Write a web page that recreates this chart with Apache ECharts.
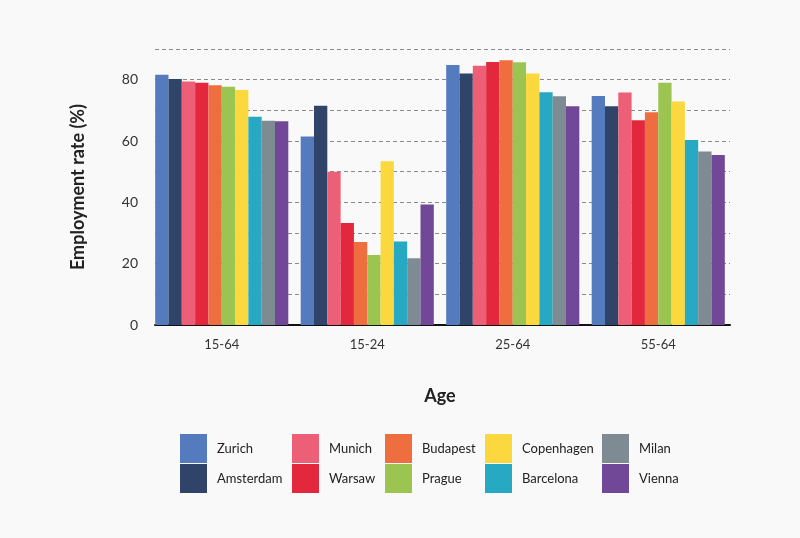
<!DOCTYPE html>
<html>
<head>
<meta charset="utf-8">
<script src="https://cdn.jsdelivr.net/npm/echarts@6/dist/echarts.min.js"></script>
<style>
html,body{margin:0;padding:0;background:#f9f9f9;}
#chart{width:800px;height:538px;}
</style>
</head>
<body>
<div id="chart"></div>
<script>
var categories = ['15-64', '15-24', '25-64', '55-64'];
var cities = ['Zurich', 'Amsterdam', 'Munich', 'Warsaw', 'Budapest', 'Prague', 'Copenhagen', 'Barcelona', 'Milan', 'Vienna'];
var colors = ['#547bbd', '#2f4468', '#ec5f77', '#e3283d', '#ee6e40', '#9bc451', '#fad83e', '#27a9c3', '#7f8b93', '#714897'];
var zurich     = [81.6, 61.5, 84.8, 74.7];
var amsterdam  = [80.2, 71.5, 82.0, 71.3];
var munich     = [79.4, 50.0, 84.5, 75.8];
var warsaw     = [79.0, 33.3, 85.8, 66.8];
var budapest   = [78.2, 27.1, 86.3, 69.4];
var prague     = [77.7, 22.8, 85.7, 79.0];
var copenhagen = [76.6, 53.4, 82.0, 72.9];
var barcelona  = [67.9, 27.2, 75.9, 60.3];
var milan      = [66.6, 21.8, 74.6, 56.6];
var vienna     = [66.4, 39.3, 71.3, 55.4];
var values = [zurich, amsterdam, munich, warsaw, budapest, prague, copenhagen, barcelona, milan, vienna];

var font = 'Lato, "Noto Sans", sans-serif';
var chart = echarts.init(document.getElementById('chart'));

var series = cities.map(function (c, i) {
  return {
    name: c, type: 'bar', data: values[i],
    xAxisIndex: 0, yAxisIndex: 0, z: 3,
    barGap: '0%', barCategoryGap: '8.5%',
    itemStyle: { color: colors[i] }
  };
});

var legendCols = [[0, 1], [2, 3], [4, 5], [6, 7], [8, 9]];
var legendLeft = [180, 292, 385, 485, 602];
var legends = legendCols.map(function (pair, k) {
  return {
    orient: 'vertical', left: legendLeft[k], top: 434, padding: 0,
    itemWidth: 27, itemHeight: 29, itemGap: 1,
    icon: 'rect', selectedMode: false,
    data: pair.map(function (i) { return cities[i]; }),
    textStyle: { fontFamily: font, fontSize: 13, color: '#222', padding: [0, 0, 0, 5] }
  };
});

chart.setOption({
  backgroundColor: '#f9f9f9',
  animation: false,
  grid: [
    { left: 149, right: 69, top: 49, bottom: 213 },
    { left: 155, right: 70, top: 49, bottom: 213 }
  ],
  legend: legends,
  xAxis: [{
    type: 'category', data: categories, gridIndex: 0,
    name: 'Age', nameLocation: 'middle', nameGap: 62,
    nameTextStyle: { fontFamily: font, fontSize: 18, fontWeight: 'bold', color: '#222' },
    axisLine: { show: false },
    axisTick: { show: false },
    axisLabel: { fontFamily: font, fontSize: 13, color: '#333', margin: 13 }
  }, {
    type: 'value', gridIndex: 1, min: 0, max: 1,
    axisLine: { show: true, lineStyle: { color: '#111', width: 2 } },
    axisTick: { show: false }, axisLabel: { show: false }, splitLine: { show: false }
  }],
  yAxis: [{
    type: 'value', min: 0, max: 90, interval: 10, gridIndex: 0,
    name: 'Employment rate (%)', nameLocation: 'middle', nameGap: 62,
    nameTextStyle: { fontFamily: font, fontSize: 18, fontWeight: 'bold', color: '#222' },
    axisLine: { show: false }, axisTick: { show: false },
    axisLabel: {
      fontFamily: font, fontSize: 14, color: '#333', margin: 11,
      formatter: function (v) { return (v % 20 === 0) ? String(v) : ''; }
    },
    splitLine: { show: false }
  }, {
    type: 'value', gridIndex: 1, min: 0, max: 90, interval: 10,
    axisLine: { show: false }, axisTick: { show: false }, axisLabel: { show: false },
    splitLine: { lineStyle: { color: '#8a8a8a', type: [4, 3], width: 1 } }
  }],
  series: series
});
</script>
</body>
</html>
